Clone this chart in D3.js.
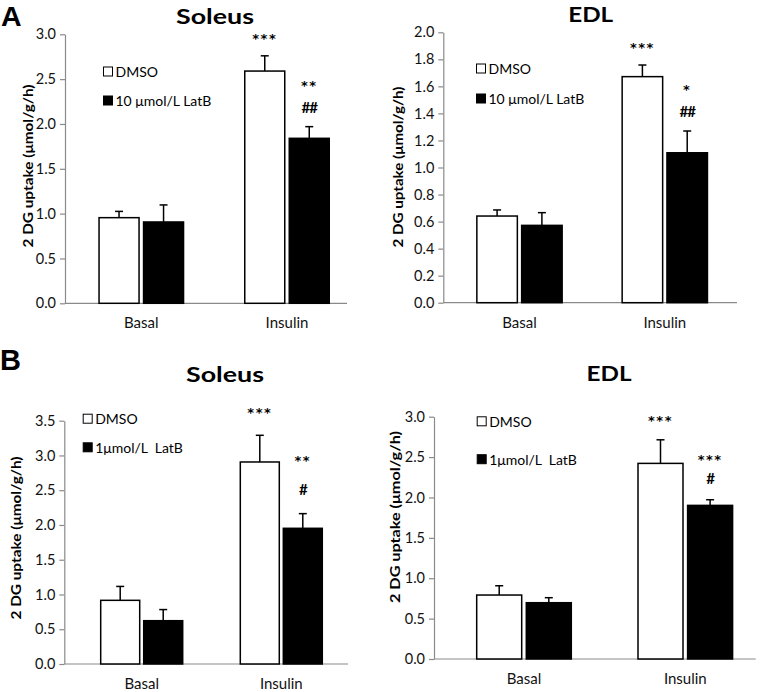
<!DOCTYPE html>
<html><head><meta charset="utf-8">
<script src="https://cdn.jsdelivr.net/npm/d3@7"></script>
<style>body{margin:0;background:#fff}svg{display:block}</style>
</head><body>
<svg id="c" width="768" height="692"></svg>
<script>
// ---------- data ----------
const categories = ["Basal", "Insulin"];
const seriesNames = ["DMSO", "LatB"];
const legendA = ["DMSO", "10 \u03bcmol/L LatB"];
const legendB = ["DMSO", "1\u03bcmol/L  LatB"];
const titles = ["Soleus", "EDL", "Soleus", "EDL"];
const panelLetters = ["A", "B"];
const yTitle = "2 DG uptake (\u03bcmol/g/h)";

// Panel A – Soleus (10 µmol/L LatB)
const aSolDMSO = [0.955, 2.59];
const aSolDMSOErr = [0.07, 0.17];
const aSolLatB = [0.907, 1.84];
const aSolLatBErr = [0.19, 0.13];
const aSolTicks = [0, 0.5, 1.0, 1.5, 2.0, 2.5, 3.0];
const aSolMarks = { DMSO: ["***"], LatB: ["**", "##"] };

// Panel A – EDL (10 µmol/L LatB)
const aEdlDMSO = [0.641, 1.672];
const aEdlDMSOErr = [0.045, 0.086];
const aEdlLatB = [0.572, 1.109];
const aEdlLatBErr = [0.094, 0.161];
const aEdlTicks = [0, 0.2, 0.4, 0.6, 0.8, 1.0, 1.2, 1.4, 1.6, 1.8, 2.0];
const aEdlMarks = { DMSO: ["***"], LatB: ["*", "##"] };

// Panel B – Soleus (1 µmol/L LatB)
const bSolDMSO = [0.916, 2.906];
const bSolDMSOErr = [0.20, 0.384];
const bSolLatB = [0.623, 1.952];
const bSolLatBErr = [0.16, 0.211];
const bSolTicks = [0, 0.5, 1.0, 1.5, 2.0, 2.5, 3.0, 3.5];
const bSolMarks = { DMSO: ["***"], LatB: ["**", "#"] };

// Panel B – EDL (1 µmol/L LatB)
const bEdlDMSO = [0.792, 2.422];
const bEdlDMSOErr = [0.115, 0.292];
const bEdlLatB = [0.697, 1.902];
const bEdlLatBErr = [0.062, 0.07];
const bEdlTicks = [0, 0.5, 1.0, 1.5, 2.0, 2.5, 3.0];
const bEdlMarks = { DMSO: ["***"], LatB: ["***", "#"] };

// ---------- layout (pixels) ----------
const panels = [
  { title: titles[0], legend: legendA, dmso: aSolDMSO, dmsoErr: aSolDMSOErr, latb: aSolLatB, latbErr: aSolLatBErr, ticks: aSolTicks, marks: aSolMarks,
    axisX: 65, y0: 303.3, yTop: 34.3, xEnd: 347, c1: 141.3, c2: 287, barW: 40, gap: 4.5,
    titleX: 215, titleY: 24, titleLen: 78, yTitleX: 28, yTitleY: 166, yTitleLen: 163,
    legX: 103, legY: [71.5, 100.5], markGap: [20, 24] },
  { title: titles[1], legend: legendA, dmso: aEdlDMSO, dmsoErr: aEdlDMSOErr, latb: aEdlLatB, latbErr: aEdlLatBErr, ticks: aEdlTicks, marks: aEdlMarks,
    axisX: 443.3, y0: 302.7, yTop: 32.3, xEnd: 737, c1: 519.5, c2: 664.8, barW: 40.5, gap: 4.3,
    titleX: 590.7, titleY: 22, titleLen: 45, yTitleX: 397.5, yTitleY: 167, yTitleLen: 161,
    legX: 476, legY: [68.5, 98.5], markGap: [20, 24] },
  { title: titles[2], legend: legendB, dmso: bSolDMSO, dmsoErr: bSolDMSOErr, latb: bSolLatB, latbErr: bSolLatBErr, ticks: bSolTicks, marks: bSolMarks,
    axisX: 64.3, y0: 664, yTop: 420.7, xEnd: 348, c1: 141.7, c2: 281.3, barW: 39, gap: 4,
    titleX: 225, titleY: 381.7, titleLen: 78, yTitleX: 16, yTitleY: 538, yTitleLen: 163,
    legX: 82.7, legY: [418.7, 447.3], markGap: [25, 31] },
  { title: titles[3], legend: legendB, dmso: bEdlDMSO, dmsoErr: bEdlDMSOErr, latb: bEdlLatB, latbErr: bEdlLatBErr, ticks: bEdlTicks, marks: bEdlMarks,
    axisX: 434, y0: 659, yTop: 416.7, xEnd: 755.7, c1: 524, c2: 685.3, barW: 45, gap: 4.6,
    titleX: 609, titleY: 380.7, titleLen: 45, yTitleX: 394.8, yTitleY: 517, yTitleLen: 172,
    legX: 476.7, legY: [421.3, 459.2], markGap: [22, 21] }
];

const svg = d3.select("#c");
const FONT = "Lato, 'Open Sans', sans-serif";
const AXIS = "#8a8a8a";

function drawPanel(p) {
  const g = svg.append("g");
  const y = d3.scaleLinear().domain([0, p.ticks[p.ticks.length - 1]]).range([p.y0, p.yTop]);
  const step = p.c2 - p.c1;
  const groupW = 2 * p.barW + p.gap;
  const pad = 1 - groupW / step;
  const x0 = d3.scaleBand().domain(categories).range([p.c1 - step / 2, p.c2 + step / 2])
    .paddingInner(pad).paddingOuter(pad / 2);
  const x1 = d3.scaleBand().domain(seriesNames).range([0, x0.bandwidth()])
    .paddingInner(p.gap / (p.barW + p.gap)).paddingOuter(0);

  // y axis
  const ya = g.append("g").attr("transform", `translate(${p.axisX},0)`)
    .call(d3.axisLeft(y).tickValues(p.ticks).tickSize(5).tickSizeOuter(0).tickPadding(4).tickFormat(d3.format(".1f")));
  ya.select(".domain").attr("stroke", AXIS).attr("stroke-width", 1.2);
  ya.selectAll(".tick line").attr("stroke", AXIS).attr("stroke-width", 1.2);
  ya.selectAll(".tick text").attr("font-family", FONT).attr("font-size", 14.5).attr("fill", "#111");

  // x axis
  g.append("line").attr("x1", p.axisX).attr("x2", p.xEnd).attr("y1", p.y0).attr("y2", p.y0)
    .attr("stroke", AXIS).attr("stroke-width", 1.2);
  const xa = g.append("g").attr("transform", `translate(0,${p.y0})`)
    .call(d3.axisBottom(x0).tickSize(0).tickPadding(14.5));
  xa.select(".domain").remove();
  xa.selectAll(".tick text").attr("font-family", FONT).attr("font-size", 15).attr("fill", "#111");

  const rows = [];
  categories.forEach((c, i) => {
    rows.push({ cat: c, s: "DMSO", v: p.dmso[i], e: p.dmsoErr[i], marks: i === 1 ? p.marks.DMSO : [] });
    rows.push({ cat: c, s: "LatB", v: p.latb[i], e: p.latbErr[i], marks: i === 1 ? p.marks.LatB : [] });
  });

  const bar = g.selectAll("g.bar").data(rows).join("g").attr("class", "bar")
    .attr("transform", d => `translate(${x0(d.cat) + x1(d.s)},0)`);
  const bw = x1.bandwidth();
  // error bars (upper only)
  bar.append("line").attr("x1", bw / 2).attr("x2", bw / 2)
    .attr("y1", d => y(d.v)).attr("y2", d => y(d.v + d.e))
    .attr("stroke", "#000").attr("stroke-width", 1.5);
  bar.append("line").attr("x1", bw / 2 - 4).attr("x2", bw / 2 + 4)
    .attr("y1", d => y(d.v + d.e)).attr("y2", d => y(d.v + d.e))
    .attr("stroke", "#000").attr("stroke-width", 1.5);
  bar.append("rect").attr("x", 0).attr("width", bw)
    .attr("y", d => y(d.v)).attr("height", d => y(0) - y(d.v))
    .attr("fill", d => d.s === "DMSO" ? "#fff" : "#000")
    .attr("stroke", "#000").attr("stroke-width", 1.5);
  // significance marks
  bar.each(function (d) {
    const n = d.marks.length;
    d.marks.forEach((m, k) => {
      const level = n - 1 - k; // bottom line is level 0
      const off = p.markGap[0] + level * p.markGap[1];
      const isHash = m.indexOf("#") >= 0;
      d3.select(this).append("text")
        .attr("x", bw / 2).attr("y", y(d.v + d.e) - off + (isHash ? 6 : 7))
        .attr("text-anchor", "middle")
        .attr("font-family", isHash ? FONT : "'DejaVu Sans', sans-serif")
        .attr("font-weight", "bold")
        .attr("font-size", isHash ? 15 : 13)
        .attr("letter-spacing", isHash ? -1 : 1.5)
        .text(m);
    });
  });

  // title
  g.append("text").attr("x", p.titleX).attr("y", p.titleY).attr("text-anchor", "middle")
    .attr("font-family", FONT).attr("font-weight", "bold").attr("font-size", 21)
    .attr("textLength", p.titleLen).attr("lengthAdjust", "spacingAndGlyphs")
    .text(p.title);

  // y title
  g.append("text").attr("transform", `translate(${p.yTitleX},${p.yTitleY}) rotate(-90)`)
    .attr("text-anchor", "middle").attr("dominant-baseline", "central")
    .attr("font-family", FONT).attr("font-weight", "bold").attr("font-size", 13.5)
    .attr("textLength", p.yTitleLen).attr("lengthAdjust", "spacingAndGlyphs")
    .text(yTitle);

  // legend
  p.legend.forEach((t, i) => {
    g.append("rect").attr("x", p.legX + 0.5).attr("y", p.legY[i] - 4.5).attr("width", 9).attr("height", 9)
      .attr("fill", i === 0 ? "#fff" : "#000").attr("stroke", "#000").attr("stroke-width", 1);
    g.append("text").attr("x", p.legX + 12.5).attr("y", p.legY[i]).attr("dominant-baseline", "central")
      .attr("font-family", FONT).attr("font-size", 14).attr("xml:space", "preserve")
      .style("white-space", "pre").text(t);
  });
}

panels.forEach(drawPanel);

// panel letters
svg.append("text").attr("x", 1).attr("y", 25.5).attr("font-family", "'Liberation Sans', Arial, sans-serif")
  .attr("font-weight", "bold").attr("font-size", 28.5).text(panelLetters[0]);
svg.append("text").attr("x", 0).attr("y", 370).attr("font-family", "'Liberation Sans', Arial, sans-serif")
  .attr("font-weight", "bold").attr("font-size", 29).text(panelLetters[1]);
</script>
</body></html>
